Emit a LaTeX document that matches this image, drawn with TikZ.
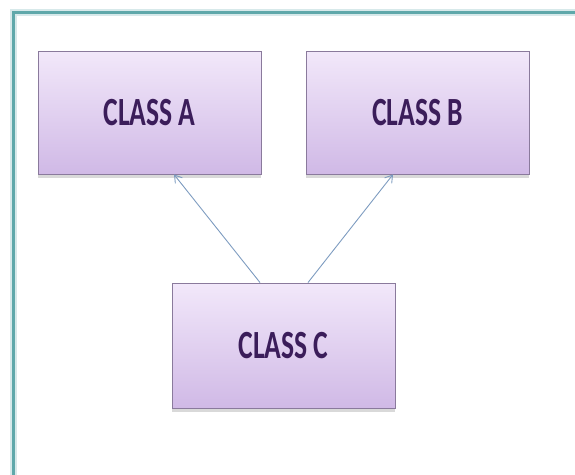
\documentclass[tikz,border=0pt]{standalone}
\usepackage{fontspec}
\setmainfont{Carlito}
\usetikzlibrary{arrows.meta,shadows,fadings}
\definecolor{frameteal}{HTML}{5FA8AA}
\definecolor{boxtop}{HTML}{F2E8FA}
\definecolor{boxbot}{HTML}{D0B9E6}
\definecolor{boxedge}{HTML}{8A7A9C}
\definecolor{labelink}{HTML}{3B1D5A}
\definecolor{linkblue}{HTML}{7E9CC0}
\tikzset{
  classbox/.style={draw=boxedge, line width=0.9pt, top color=boxtop, bottom color=boxbot,
    minimum width=223pt, minimum height=123pt, inner sep=0pt,
    drop shadow={shadow xshift=0pt, shadow yshift=-4pt, opacity=0.25, fill=black!60}},
  classlabel/.style={font=\bfseries\fontsize{40}{40}\selectfont, text=labelink, xscale=0.69},
  inherit/.style={draw=linkblue, line width=0.9pt, -{Straight Barb[length=7pt,width=9pt]}}
}
\begin{document}
\begin{tikzpicture}[x=1pt,y=-1pt]
  \useasboundingbox (0,0) rectangle (575,474);
  \clip (0,0) rectangle (575,474);
  % outer frame, running off the right and bottom edges
  \draw[frameteal!25, line width=7pt] (13,12) rectangle (600,500);
  \draw[frameteal, line width=3pt] (13,12) rectangle (600,500);
  % class boxes
  \node[classbox] (A) at (149.5,112.5) {};
  \node[classlabel] at (A.center) {CLASS A};
  \node[classbox] (B) at (417.5,112.5) {};
  \node[classlabel] at (B.center) {CLASS B};
  \node[classbox, minimum height=125pt] (C) at (283.5,345.5) {};
  \node[classlabel] at (C.center) {CLASS C};
  % inheritance links
  \coordinate (ca) at ([xshift=-23.5pt]C.north);
  \coordinate (cb) at ([xshift=24.5pt]C.north);
  \draw[inherit] (ca) -- ([xshift=24.5pt]A.south);
  \draw[inherit] (cb) -- ([xshift=-24.5pt]B.south);
\end{tikzpicture}
\end{document}
